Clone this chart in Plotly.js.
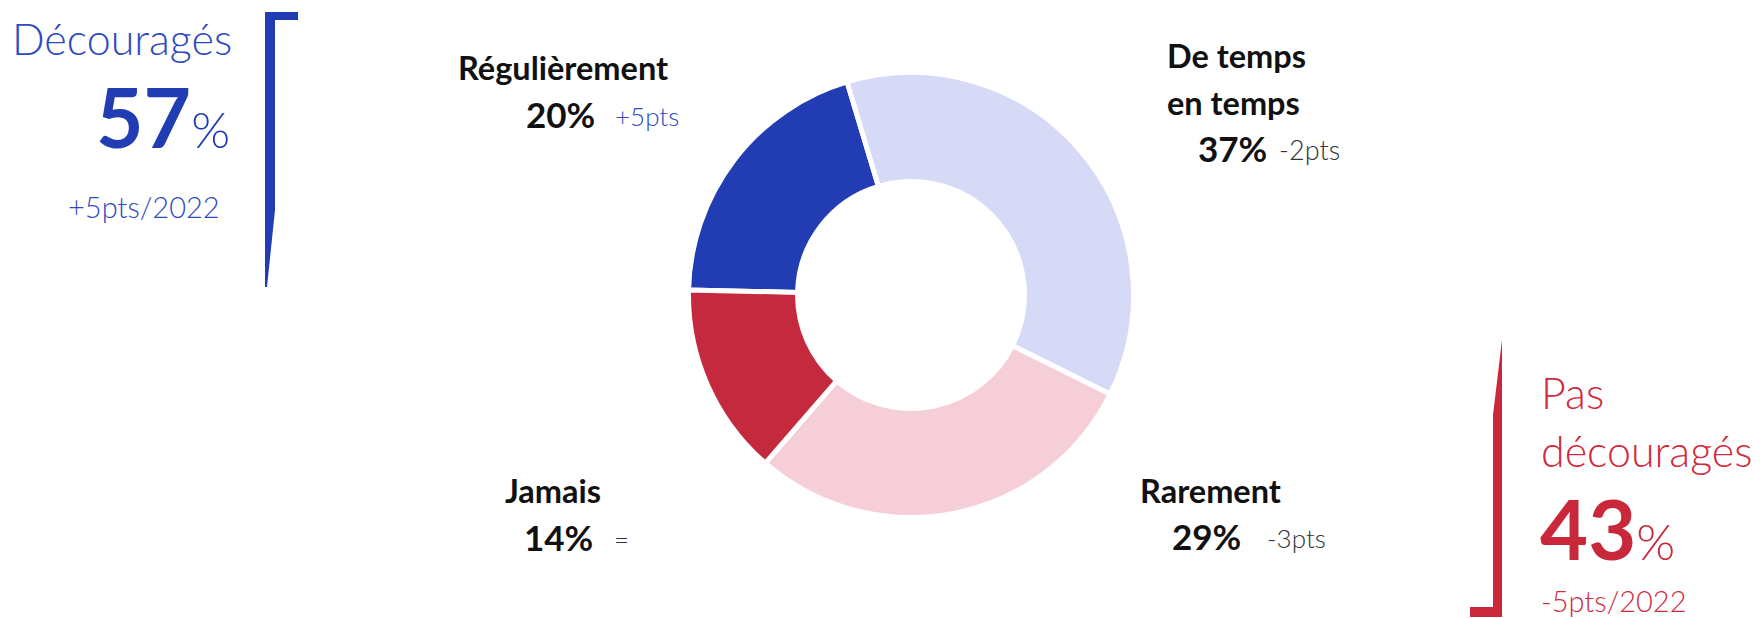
<!DOCTYPE html>
<html>
<head>
<meta charset="utf-8">
<script src="https://cdn.plot.ly/plotly-3.0.1.min.js"></script>
<style>
  html, body { margin: 0; padding: 0; background: #ffffff; }
  #chart { width: 1762px; height: 618px; }
</style>
</head>
<body>
<div id="chart"></div>
<script>
// ---- Data ----
const categories = ['Régulièrement', 'De temps en temps', 'Rarement', 'Jamais'];
const labelLines = [['Régulièrement'], ['De temps', 'en temps'], ['Rarement'], ['Jamais']];
const values = [20, 37, 29, 14];
const changes = ['+5pts', '-2pts', '-3pts', '='];
const groupNames = [['Découragés'], ['Pas', 'découragés']];
const groupValues = [57, 43];
const groupChanges = ['+5pts/2022', '-5pts/2022'];

// ---- Styles ----
const W = 1762, H = 618;
const sliceColors = ['#223DB4', '#D6DAF6', '#F6CED8', '#C5293D'];
const BLUE = '#223DB4', BLUE_TXT = '#2E4AC2', RED = '#C8283A', RED_TXT = '#D22A3D';
const FONT = 'Lato, "Noto Sans", sans-serif';
const px = x => x / W;
const py = y => 1 - y / H;

// pie geometry (px)
const cx = 911, cy = 295, R = 222.5;

const pie = {
  type: 'pie',
  labels: categories,
  values: values,
  sort: false,
  direction: 'clockwise',
  rotation: -88.7,
  hole: 0.51,
  marker: { colors: sliceColors, line: { color: '#ffffff', width: 5 } },
  textinfo: 'none',
  hoverinfo: 'none',
  showlegend: false,
  domain: { x: [px(cx - R), px(cx + R)], y: [py(cy + R), py(cy - R)] }
};

const ann = [];
function addText(text, x, yBaseline, size, color, weight, anchor) {
  ann.push({
    xref: 'paper', yref: 'paper',
    x: px(x), y: py(yBaseline - 0.387 * size),
    xanchor: anchor || 'left', yanchor: 'middle',
    text: text, showarrow: false, borderpad: 0,
    font: { family: FONT, size: size, color: color, weight: weight }
  });
}

// slice labels: [label left, first baseline, value left, value baseline, change left]
const labelPos = [
  [458, 80, 526, 128, 615],
  [1167, 68, 1198, 162, 1279],
  [1140, 503, 1172, 550, 1267],
  [505, 503, 524, 551, 614]
];
const changeColors = [BLUE_TXT, '#333333', '#333333', '#333333'];
const changeSizes = [26, 27, 26, 26];
for (let i = 0; i < categories.length; i++) {
  const p = labelPos[i];
  labelLines[i].forEach((line, k) => addText(line, p[0] - 1, p[1] + k * 47, 32.5, '#111111', 700));
  addText(values[i] + '%', p[2] - 1, p[3], 35, '#111111', 700);
  addText(changes[i], p[4] - 1, p[3] - 2, changeSizes[i], changeColors[i], 300);
}

// group blocks
// Découragés (left, right-aligned)
addText(groupNames[0][0], 233, 55, 43, BLUE_TXT, 300, 'right');
addText('<b>' + groupValues[0] + '</b><span style="font-size:50px;font-weight:300">%</span>', 231, 148, 82, BLUE, 700, 'right');
addText(groupChanges[0], 221, 218, 29, BLUE_TXT, 300, 'right');

// Pas découragés (right, left-aligned)
groupNames[1].forEach((line, k) => addText(line, 1540, 409 + k * 58, 43, RED_TXT, 300));
addText('<b>' + groupValues[1] + '</b><span style="font-size:50px;font-weight:300">%</span>', 1539, 560, 83, RED, 700);
addText(groupChanges[1], 1540, 612, 29, RED_TXT, 300);

// brackets
function pathOf(pts) {
  return 'M ' + pts.map(p => px(p[0]).toFixed(5) + ' ' + py(p[1]).toFixed(5)).join(' L ') + ' Z';
}
const shapes = [
  { type: 'path', xref: 'paper', yref: 'paper', fillcolor: BLUE, line: { width: 0 },
    path: pathOf([[265, 12], [298, 12], [298, 20], [275, 20], [275, 210], [267, 287], [265, 287]]) },
  { type: 'path', xref: 'paper', yref: 'paper', fillcolor: RED, line: { width: 0 },
    path: pathOf([[1502, 340], [1502, 617], [1470, 617], [1470, 607], [1493, 607], [1493, 415]]) }
];

const layout = {
  width: W, height: H,
  margin: { l: 0, r: 0, t: 0, b: 0 },
  paper_bgcolor: '#ffffff', plot_bgcolor: '#ffffff',
  showlegend: false,
  annotations: ann,
  shapes: shapes,
  font: { family: FONT }
};

Plotly.newPlot('chart', [pie], layout, { displayModeBar: false, staticPlot: true });
</script>
</body>
</html>
